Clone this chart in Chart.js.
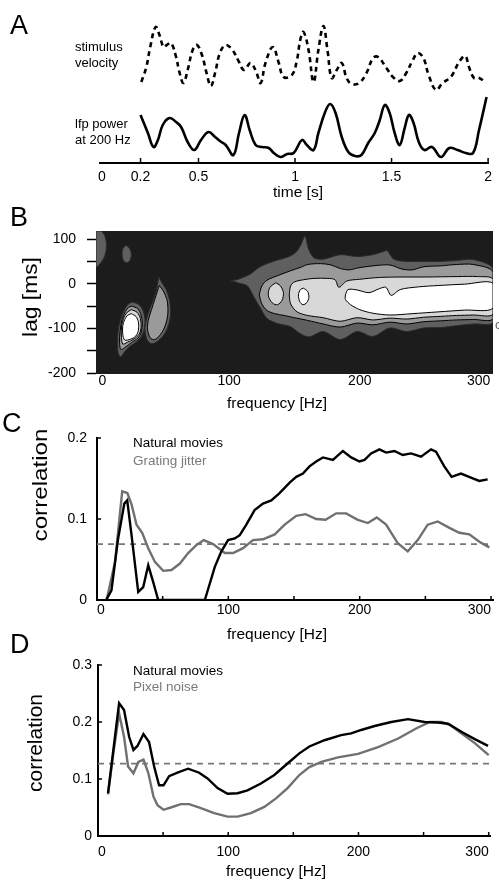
<!DOCTYPE html>
<html>
<head>
<meta charset="utf-8">
<script src="https://cdn.jsdelivr.net/npm/chart.js@4.4.0/dist/chart.umd.min.js"></script>
<style>
html, body { margin: 0; padding: 0; background: #fff; }
body { width: 499px; height: 881px; position: relative; overflow: hidden; font-family: 'Liberation Sans', Arial, sans-serif; color: #000; }
.box { position: absolute; left: 0; width: 499px; }
.t { position: absolute; white-space: nowrap; line-height: 1; }
.letter { font-size: 27px; }
.small { font-size: 13px; }
.leg { font-size: 13.5px; }
.xt { font-size: 15.5px; transform: translateX(-50%); }
.yt { transform-origin: center; }
</style>
</head>
<body>
<div class="box" style="top:0;height:200px"><canvas id="chartA"></canvas></div>
<div class="box" style="top:200px;height:215px"><canvas id="chartB"></canvas></div>
<div class="box" style="top:415px;height:228px"><canvas id="chartC"></canvas></div>
<div class="box" style="top:650px;height:215px"><canvas id="chartD"></canvas></div>

<div class="t letter" style="left:10px;top:11.5px">A</div>
<div class="t letter" style="left:10px;top:203.5px">B</div>
<div class="t letter" style="left:2px;top:409.5px">C</div>
<div class="t letter" style="left:10px;top:630.5px">D</div>

<div class="t small" style="left:75px;top:40px">stimulus</div>
<div class="t small" style="left:75px;top:55.6px">velocity</div>
<div class="t small" style="left:75px;top:117.3px">lfp power</div>
<div class="t small" style="left:75px;top:133.3px">at 200 Hz</div>
<div class="t xt" style="left:298px;top:184px">time [s]</div>

<div class="t yt" style="left:30px;top:297px;font-size:20px;transform:translate(-50%,-50%) rotate(-90deg) scaleX(1.14)">lag [ms]</div>
<div class="t xt" style="left:277px;top:395.3px">frequency [Hz]</div>
<div class="t small" style="left:495px;top:318px;color:#666">c</div>

<div class="t yt" style="left:39px;top:485px;font-size:21px;transform:translate(-50%,-50%) rotate(-90deg) scaleX(1.15)">correlation</div>
<div class="t leg" style="left:133px;top:436.2px">Natural movies</div>
<div class="t leg" style="left:133px;top:454.2px;color:#7a7a7a">Grating jitter</div>
<div class="t xt" style="left:277px;top:626.3px">frequency [Hz]</div>

<div class="t yt" style="left:34px;top:743px;font-size:21px;transform:translate(-50%,-50%) rotate(-90deg)">correlation</div>
<div class="t leg" style="left:133px;top:664.2px">Natural movies</div>
<div class="t leg" style="left:133px;top:679.9px;color:#7a7a7a">Pixel noise</div>
<div class="t xt" style="left:276px;top:863px">frequency [Hz]</div>

<script>
// ---- panel A: example traces (time in s, height in arbitrary units) ----
const timeStim = [0.204,0.23,0.25,0.278,0.298,0.319,0.336,0.358,0.384,0.401,0.422,0.444,0.47,0.492,0.518,0.542,0.564,0.586,0.611,0.641,0.676,0.71,0.736,0.77,0.799,0.822,0.847,0.885,0.916,0.941,0.984,1.01,1.027,1.044,1.07,1.096,1.121,1.147,1.168,1.19,1.216,1.242,1.267,1.293,1.332,1.37,1.404,1.43,1.473,1.507,1.542,1.576,1.61,1.636,1.665,1.692,1.73,1.764,1.807,1.85,1.881,1.901,1.927,1.953,1.984];
const stimVelocity = [81,96,116,136,128,116,118,120,106,91,80,93,113,118,108,90,77,90,110,118,113,101,93,100,91,80,100,116,100,86,88,103,123,131,113,81,113,137,113,85,93,100,85,79,80,90,105,106,95,86,82,90,103,110,105,88,73,80,86,101,107,96,85,85,81];
const timeLfp = [0.2,0.238,0.267,0.29,0.315,0.35,0.384,0.41,0.444,0.478,0.513,0.552,0.586,0.611,0.641,0.681,0.71,0.739,0.765,0.796,0.83,0.864,0.89,0.924,0.959,0.993,1.036,1.061,1.096,1.121,1.156,1.182,1.21,1.242,1.276,1.31,1.344,1.379,1.413,1.439,1.465,1.49,1.516,1.542,1.568,1.59,1.614,1.641,1.67,1.709,1.756,1.799,1.842,1.884,1.922,1.953,1.992];
const lfpPower = [48,30,16,23,38,45,41,36,21,13,23,31,26,22,18,8,30,48,33,18,16,15,10,6,9,10,23,18,13,30,51,59,50,26,11,7,8,20,30,43,58,50,30,18,35,48,40,21,13,16,6,15,13,10,10,33,66];
const timeTicks = [0, 0.2, 0.5, 1, 1.5, 2];
const timeMarks = [0.2, 0.5, 1, 1.5, 2];

// ---- panel B: contour regions (frequency Hz, lag ms), closed outlines ----
const cornerFreq = [-2, 2, 5, 6, 5, 2, -2, -2];
const cornerLag  = [118, 118, 105, 85, 65, 48, 38, 118];
const spotFreq = [21, 23.5, 25, 24.5, 22, 19.5, 18, 18.5, 21];
const spotLag  = [86, 80, 68, 55, 47, 50, 62, 78, 86];
const low1Freq = [26,31,34,35.5,35,33,29,24,20,17,15,14.5,15,17,20,23,26];
const low1Lag  = [-41,-47,-60,-80,-100,-117,-130,-140,-152,-163,-156,-132,-105,-78,-57,-45,-41];
const low2Freq = [25.5,30,32.5,33.5,32.5,30,25,20,17,16,16.5,18,20.5,23,25.5];
const low2Lag  = [-50,-56,-70,-90,-110,-122,-132,-143,-147,-132,-105,-80,-62,-53,-50];
const low3Freq = [25,29.5,32,32.5,31,27,22,18.5,17.5,17.5,19,21.5,25];
const low3Lag  = [-58,-64,-78,-98,-113,-124,-131,-135,-120,-97,-78,-65,-58];
const low4Freq = [25,28.5,30.5,30.5,28.5,24.5,20,18.5,18.5,20,22,25];
const low4Lag  = [-67,-73,-86,-104,-117,-124,-126,-113,-94,-80,-71,-67];
const blob1Freq = [46,48.5,52,54.5,55,53,49,44,40,37,35.5,36.5,39,42,44.5,46];
const blob1Lag  = [16,2,-15,-40,-70,-97,-118,-131,-134,-124,-103,-82,-58,-35,-12,16];
const blob2Freq = [46.5,49.5,52.5,53,51,47.5,43,39.5,37.5,38,40.5,43,45,46.5];
const blob2Lag  = [-4,-16,-38,-68,-94,-113,-125,-121,-103,-82,-58,-35,-17,-4];
const ridge1Freq = [101,106,112,117,122,129,137,145,151,155,158,161,165,172,185,198,210,218,221,226,236,249,262,274,287,302,
                    302,287,274,262,249,236,223,210,198,185,172,161,154,147,137,129,124,119,114,108,101];
const ridge1Lag  = [7,9,16,23,35,45,53,60,70,88,106,76,58,55,65,61,65,72,74,55,50,50,50,52,54,33,
                    -86,-90,-94,-98,-99,-107,-99,-118,-107,-125,-107,-119,-111,-96,-89,-78,-55,-30,-5,1,7];
const ridge2Freq = [123,125,129,137,147,155,160,170,178,185,192,198,210,223,232,240,249,262,274,287,302,
                    302,287,274,262,249,236,223,210,198,185,172,160,150,142,135,129,125,123];
const ridge2Lag  = [-25,-5,8,18,29,37,43,45,42,34,31,35,40,42,33,31,38,40,43,43,26,
                    -78,-80,-81,-83,-85,-90,-86,-92,-88,-97,-90,-82,-76,-71,-67,-60,-45,-25];
const ridge3Freq = [146,147,150,157,165,175,181,184,190,200,215,230,250,275,290,302,
                    302,287,274,262,249,236,223,210,198,185,172,160,152,147,146];
const ridge3Lag  = [-25,-5,4,9,12,12,9,-8,6,10,14,15,15,16,16,10,
                    -68,-70,-71,-73,-75,-79,-77,-81,-76,-84,-76,-71,-63,-45,-25];
const ridge4Freq = [189,191,198,207,215,220,224,231,245,260,280,302,302,280,260,240,223,210,200,193,189,189];
const ridge4Lag  = [-25,-13,-14,-20,-11,-8,-26,-13,-7,-4,-1,1,-55,-59,-63,-67,-70,-66,-58,-47,-35,-25];
const islandAFreq = [135.5,139,141.5,140.5,137,133,130,131,135.5];
const islandALag  = [2,-4,-20,-37,-47,-43,-27,-9,2];
const islandBFreq = [157,160,161,159.5,156.5,154,153,154.5,157];
const islandBLag  = [-10,-17,-30,-42,-47,-40,-25,-13,-10];
const freqTicksB = [0, 100, 200, 300];
const lagTicks = [-200, -150, -100, -50, 0, 50, 100];

// ---- panel C: correlation vs frequency ----
const cMoviesFreq = [7,11,16,20.8,23,26.3,31.4,35.2,39,42.8,46.6,82.1,89.7,94.7,99.8,104.9,108.7,113.7,120,126.4,132.7,139,146.7,151.7,156.8,161.8,166.9,172,179.6,187.2,193.5,199.8,203.7,208.7,215,220.1,226.4,232.8,239.1,246.7,254.3,258.1,264.4,270,277.1,284.7,291,297.4];
const cMoviesCorr = [0,0.012,0.075,0.119,0.123,0.080,0.010,0.016,0.043,0.022,0,0,0.041,0.060,0.074,0.076,0.080,0.093,0.111,0.119,0.123,0.132,0.145,0.152,0.156,0.165,0.171,0.176,0.173,0.184,0.176,0.171,0.173,0.181,0.186,0.182,0.184,0.179,0.181,0.177,0.186,0.183,0.165,0.152,0.156,0.151,0.147,0.149];
const cGratingFreq = [7.3,13.7,19.2,23.1,26.3,30.1,34.4,39,44.1,50.4,56.7,63.1,69.4,75.8,81.3,88.4,97.3,103.6,111.2,118.8,126.4,135.3,142.9,151.7,158.8,166.9,174,182.1,189.7,198.6,206.2,213,220.1,229,236.6,244.2,251.8,259.4,268.3,275.9,283.5,291.1,298.7];
const cGratingCorr = [0,0.047,0.134,0.132,0.118,0.093,0.083,0.064,0.047,0.036,0.037,0.045,0.058,0.068,0.074,0.069,0.058,0.058,0.064,0.074,0.075,0.081,0.093,0.104,0.106,0.100,0.099,0.107,0.107,0.099,0.095,0.102,0.093,0.070,0.060,0.074,0.093,0.097,0.089,0.083,0.081,0.072,0.065];
const cChance = 0.069;
const corrTicksC = [0, 0.1, 0.2];

// ---- panel D: correlation vs frequency ----
const dMoviesFreq = [7.7,16.2,20,23.9,27.2,30.3,34.9,39.2,43.1,46.9,50.3,54.6,61,69.2,77.7,84.1,91.8,99.5,107.2,114.8,125.1,135.4,144.4,154.6,162.3,173.9,186.7,194.4,202.1,212.4,225.2,238,250.8,261.1,268.8,279,289.3,299.5];
const dMoviesCorr = [0.075,0.233,0.221,0.174,0.151,0.158,0.179,0.165,0.122,0.089,0.089,0.105,0.111,0.118,0.111,0.101,0.084,0.074,0.075,0.080,0.092,0.107,0.125,0.145,0.157,0.168,0.177,0.180,0.186,0.193,0.200,0.205,0.200,0.199,0.197,0.183,0.170,0.158];
const dNoiseFreq = [7.7,11.8,16.2,20,23.1,27.2,31,34.9,38.7,42.6,45.7,50.3,55.9,63.6,70,79,89.2,99.5,107.2,117.4,127.7,136.7,145.6,154.6,162.3,171.5,184.3,199.7,215.1,230.5,244.6,254.8,263.8,270.2,279,289.3,300];
const dNoiseCorr = [0.073,0.145,0.215,0.174,0.122,0.110,0.130,0.134,0.110,0.069,0.054,0.046,0.050,0.056,0.056,0.049,0.040,0.034,0.034,0.040,0.051,0.066,0.084,0.107,0.121,0.130,0.138,0.144,0.156,0.171,0.189,0.200,0.200,0.195,0.180,0.163,0.142];
const dChance = 0.127;
const corrTicksD = [0, 0.1, 0.2, 0.3];

const freqTicks = [0, 100, 200, 300];
const freqMarks = [0, 50, 100, 150, 200, 250, 300];

// ---------------------------------------------------------------
Chart.defaults.font.family = "'Liberation Sans', Arial, sans-serif";
Chart.defaults.color = '#000';

const pts = (xs, ys) => xs.map((x, i) => ({ x: x, y: ys[i] }));
const fixTicks = list => scale => { scale.ticks = list.map(v => ({ value: v })); };

// small tick marks pointing into the plot (matlab style)
const innerTicks = {
  id: 'innerTicks',
  afterDraw(chart, args, opts) {
    const ctx = chart.ctx;
    const a = chart.chartArea;
    ctx.save();
    ctx.strokeStyle = '#000';
    ctx.lineWidth = 1.5;
    (opts.x || []).forEach(v => {
      const px = chart.scales.x.getPixelForValue(v);
      ctx.beginPath();
      ctx.moveTo(px, a.bottom);
      ctx.lineTo(px, a.bottom - opts.len);
      ctx.stroke();
    });
    (opts.y || []).forEach(v => {
      const py = chart.scales.y.getPixelForValue(v);
      ctx.beginPath();
      ctx.moveTo(a.left, py);
      ctx.lineTo(a.left + opts.len, py);
      ctx.stroke();
    });
    ctx.restore();
  }
};

const plotBg = {
  id: 'plotBg',
  beforeDatasetsDraw(chart, args, opts) {
    const a = chart.chartArea;
    chart.ctx.save();
    chart.ctx.fillStyle = opts.color;
    chart.ctx.fillRect(a.left, a.top, a.right - a.left, a.bottom - a.top);
    chart.ctx.restore();
  }
};

const baseOpts = (pad) => ({
  animation: false,
  responsive: true,
  maintainAspectRatio: false,
  layout: { padding: pad, autoPadding: false },
  events: []
});

// ---- A ----
new Chart(document.getElementById('chartA'), {
  type: 'line',
  data: {
    datasets: [
      { data: pts(timeStim, stimVelocity), borderColor: '#000', borderWidth: 2.6, borderDash: [5, 4], pointRadius: 0, tension: 0.4, fill: false },
      { data: pts(timeLfp, lfpPower), borderColor: '#000', borderWidth: 2.6, pointRadius: 0, tension: 0.4, fill: false }
    ]
  },
  options: Object.assign(baseOpts({ left: 100, right: 8, top: 20, bottom: 0 }), {
    plugins: { legend: { display: false }, tooltip: { enabled: false }, innerTicks: { x: timeMarks, len: 5 } },
    scales: {
      x: {
        type: 'linear', min: -0.01, max: 2,
        afterBuildTicks: fixTicks(timeTicks),
        afterFit: s => { s.height = 37; },
        ticks: { callback: v => String(v), font: { size: 14, lineHeight: 1 }, padding: 7, autoSkip: false, maxRotation: 0 },
        grid: { display: false, drawTicks: false },
        border: { display: true, color: '#000', width: 2 }
      },
      y: { display: false, min: 0, max: 143 }
    }
  }),
  plugins: [innerTicks]
});

// ---- B ----
const levelColors = ['#5f5f5f', '#9a9a9a', '#d8d8d8', '#ffffff'];
const region = (fs, ls, level) => ({
  data: pts(fs, ls),
  fill: 'shape',
  backgroundColor: levelColors[level - 1],
  borderColor: level === 1 ? '#2a2a2a' : '#000',
  borderWidth: 1,
  pointRadius: 0,
  tension: 0.3,
  order: 10 - level
});

new Chart(document.getElementById('chartB'), {
  type: 'line',
  data: {
    datasets: [
      region(cornerFreq, cornerLag, 1),
      region(spotFreq, spotLag, 1),
      region(low1Freq, low1Lag, 1),
      region(blob1Freq, blob1Lag, 1),
      region(ridge1Freq, ridge1Lag, 1),
      region(low2Freq, low2Lag, 2),
      region(blob2Freq, blob2Lag, 2),
      region(ridge2Freq, ridge2Lag, 2),
      region(low3Freq, low3Lag, 3),
      region(ridge3Freq, ridge3Lag, 3),
      region(islandAFreq, islandALag, 3),
      region(low4Freq, low4Lag, 4),
      region(ridge4Freq, ridge4Lag, 4),
      region(islandBFreq, islandBLag, 4)
    ]
  },
  options: Object.assign(baseOpts({ left: 0, right: 6, top: 31, bottom: 0 }), {
    plugins: { legend: { display: false }, tooltip: { enabled: false }, plotBg: { color: '#1c1c1c' } },
    scales: {
      x: {
        type: 'linear', min: -2, max: 302,
        afterBuildTicks: fixTicks(freqTicksB),
        afterFit: s => { s.height = 41; },
        ticks: { callback: v => String(v), font: { size: 14, lineHeight: 1 }, padding: 0, autoSkip: false, maxRotation: 0, align: 'inner' },
        grid: { display: false, drawTicks: false },
        border: { display: false }
      },
      y: {
        type: 'linear', min: -202, max: 118,
        afterBuildTicks: fixTicks(lagTicks),
        afterFit: s => { s.width = 96; },
        ticks: { callback: v => (v % 100 === 0 ? String(v) : ''), font: { size: 14, lineHeight: 1 }, padding: 11, autoSkip: false },
        grid: { display: true, drawOnChartArea: false, drawTicks: true, tickLength: 9, tickColor: '#000', tickWidth: 1.5 },
        border: { display: false }
      }
    }
  }),
  plugins: [plotBg]
});

// ---- C and D ----
function corrChart(id, opt) {
  return new Chart(document.getElementById(id), {
    type: 'line',
    data: {
      datasets: [
        { data: pts(opt.blackF, opt.blackV), borderColor: '#000', borderWidth: 2.4, pointRadius: 0, tension: 0, fill: false },
        { data: pts(opt.greyF, opt.greyV), borderColor: '#707070', borderWidth: 2.4, pointRadius: 0, tension: 0, fill: false },
        { data: [{ x: 0, y: opt.chance }, { x: opt.xMax, y: opt.chance }], borderColor: '#777', borderWidth: 1.8, borderDash: [6, 5], pointRadius: 0, fill: false }
      ]
    },
    options: Object.assign(baseOpts(opt.pad), {
      plugins: { legend: { display: false }, tooltip: { enabled: false }, innerTicks: { x: freqMarks, y: opt.yTicks, len: 4 } },
      scales: {
        x: {
          type: 'linear', min: 0, max: opt.xMax,
          afterBuildTicks: fixTicks(freqTicks),
          afterFit: s => { s.height = opt.xH; },
          ticks: { callback: v => String(v), font: { size: 14, lineHeight: 1 }, padding: opt.xPad, autoSkip: false, maxRotation: 0, align: 'inner' },
          grid: { display: false, drawTicks: false },
          border: { display: true, color: '#000', width: 2 }
        },
        y: {
          type: 'linear', min: 0, max: opt.yMax,
          afterBuildTicks: fixTicks(opt.yTicks),
          afterFit: s => { s.width = opt.yW; },
          ticks: { callback: v => String(v), font: { size: 14, lineHeight: 1 }, padding: opt.yPad, autoSkip: false },
          grid: { display: false, drawTicks: false },
          border: { display: true, color: '#000', width: 2 }
        }
      }
    }),
    plugins: [innerTicks]
  });
}

corrChart('chartC', {
  blackF: cMoviesFreq, blackV: cMoviesCorr, greyF: cGratingFreq, greyV: cGratingCorr,
  chance: cChance, yTicks: corrTicksC, yMax: 0.2, xMax: 301.5,
  pad: { left: 0, right: 6, top: 23, bottom: 0 }, xH: 43, yW: 97, xPad: 3, yPad: 10
});

corrChart('chartD', {
  blackF: dMoviesFreq, blackV: dMoviesCorr, greyF: dNoiseFreq, greyV: dNoiseCorr,
  chance: dChance, yTicks: corrTicksD, yMax: 0.3, xMax: 301,
  pad: { left: 0, right: 9, top: 15, bottom: 0 }, xH: 29, yW: 98, xPad: 9.5, yPad: 6
});
</script>
</body>
</html>
